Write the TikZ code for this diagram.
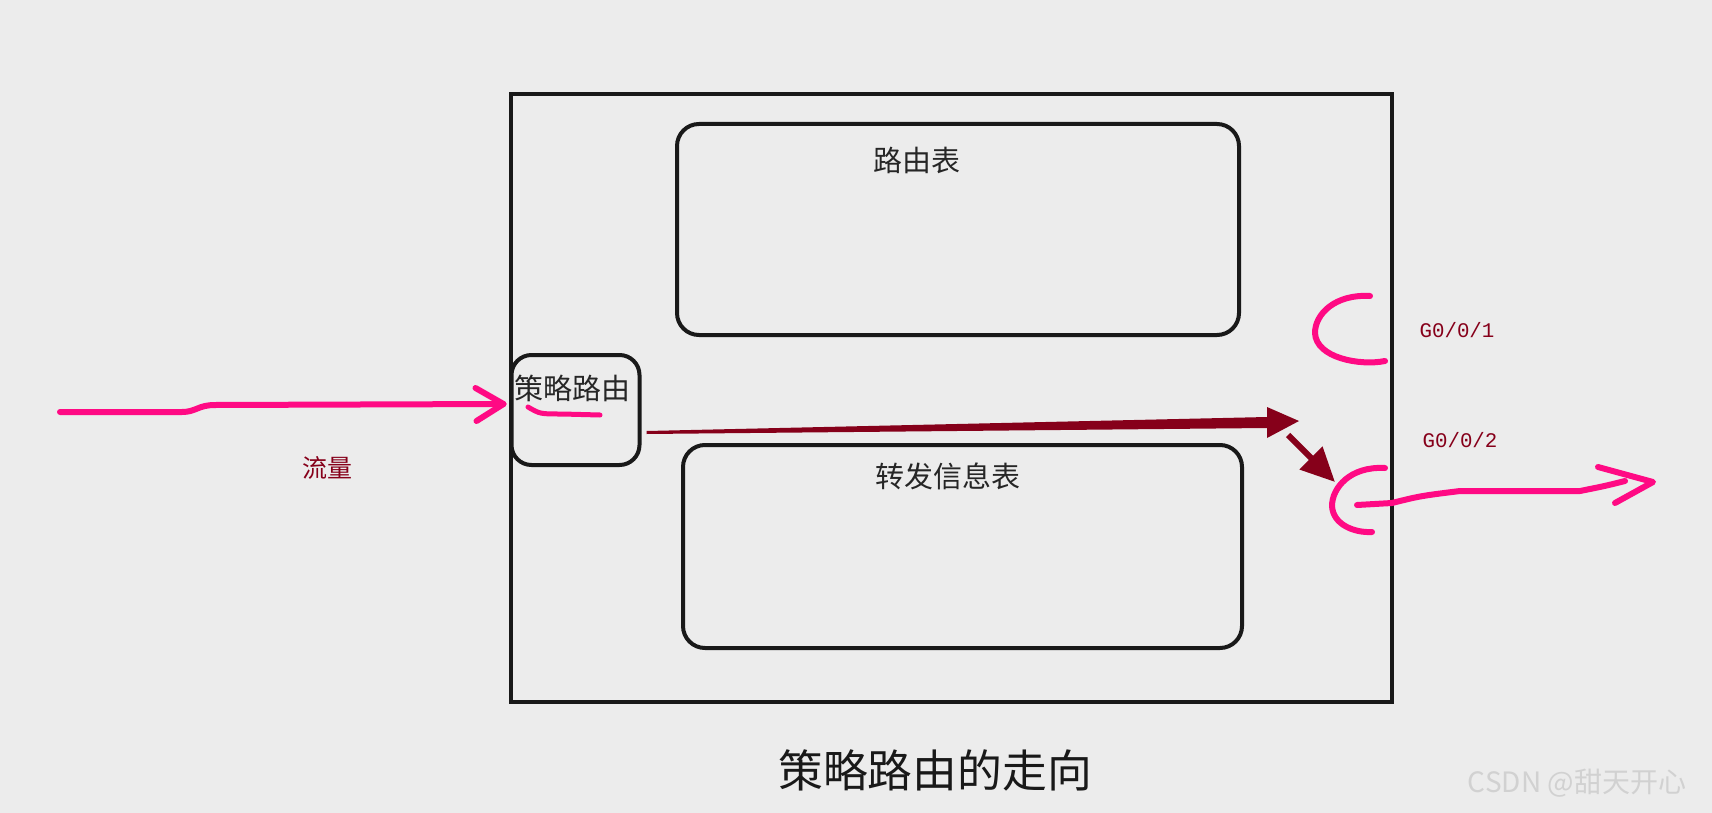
\documentclass[tikz,border=0pt]{standalone}
\usepackage{fontspec}
\setmainfont{Noto Sans CJK SC}
\newfontfamily\portfont{Liberation Mono}
\usetikzlibrary{positioning,arrows.meta,calc}
\definecolor{bgc}{HTML}{ECECEC}
\definecolor{hotpink}{HTML}{FF0A84}
\definecolor{wine}{HTML}{86001A}
\tikzset{
  tablebox/.style={draw=black!90, line width=2pt, rounded corners=11pt, inner sep=0pt},
  boxtext/.style={text=black!85, font=\fontsize{14.5}{16}\selectfont, inner sep=0pt},
  pen/.style={draw=hotpink, line width=3pt, line cap=round, line join=round},
  tag/.style={text=wine, inner sep=0pt},
}
\begin{document}
\begin{tikzpicture}[x=0.5pt, y=-0.5pt]
  \fill[bgc] (0,0) rectangle (1712,813);
  % router and its tables
  \node[draw=black!90, line width=2pt, minimum width=440.5pt, minimum height=304pt, inner sep=0pt] (router) at (951.5,398) {};
  \node[tablebox, minimum width=281pt, minimum height=105.5pt] (rib) at (958,229.5) {};
  \node[boxtext] (ribtxt) at ($(rib.north)+(-41,38)$) {路由表};
  \node[tablebox, minimum width=279.5pt, minimum height=101.5pt] (fib) at (962.5,546.5) {};
  \node[boxtext] (fibtxt) at ($(fib.north)+(-14.5,33)$) {转发信息表};
  \node[tablebox, rounded corners=10pt, minimum width=64pt, minimum height=55pt] (pbr) at (575.5,410) {};
  \node[boxtext] (pbrtxt) at ($(pbr.north)+(-3,35)$) {策略路由};
  \draw[pen, line width=2.5pt] (528,407) .. controls (540,414) .. (562,414) -- (600,415);
  % incoming traffic
  \coordinate (src) at (60,412);
  \coordinate (tin) at ($(pbr.west)+(-6,-6)$);
  \draw[pen] (src) -- (182,412) .. controls (196,412) and (198,405) .. (215,405) -- (tin);
  \draw[pen] ($(tin)+(-28,-16)$) -- (tin) -- ($(tin)+(-27,17)$);
  \node[tag, font=\fontsize{12.5}{14}\selectfont] (flow) at (327,468) {流量};
  % ports
  \coordinate (port1) at (1315,333);
  \coordinate (port2) at (1335,482);
  \draw[pen] (1370,296) .. controls (1335,294) and (1315,314) .. (port1) .. controls (1316,358) and (1360,366) .. (1385,361);
  \draw[pen] (1385,468) .. controls (1350,466) and (1332,488) .. (1332,506) .. controls (1333,525) and (1355,533) .. (1372,532);
  \node[tag, font=\portfont\fontsize{10.4}{12}\selectfont] (g1) at (1457,330) {G0/0/1};
  \node[tag, font=\portfont\fontsize{10.4}{12}\selectfont] (g2) at (1460,440) {G0/0/2};
  % policy path
  \coordinate (hop) at (1299,421);
  \fill[wine] ($(pbr.east)+(5,21)$) -- (1267,417) -- (1267,407) -- (hop) -- (1267,438) -- (1267,428) -- ($(pbr.east)+(5,24)$) -- cycle;
  \draw[wine, line width=3pt, -{Triangle[length=17pt, width=15.5pt]}] (1288,435) -- (port2);
  % outgoing traffic
  \coordinate (dst) at (1653,482);
  \draw[pen] (1357,505) -- (1392,503) .. controls (1420,496) .. (1460,491) -- (1580,491) .. controls (1605,486) .. (1625,481);
  \draw[pen] (1598,467) -- (dst) -- (1615,503);
  % caption
  \node[text=black!90, font=\fontsize{22.4}{26}\selectfont] (title) at (935,770) {策略路由的走向};
  \node[text=black!18, font=\fontsize{14}{16}\selectfont] (mark) at (1577,783) {CSDN @甜天开心};
\end{tikzpicture}
\end{document}
